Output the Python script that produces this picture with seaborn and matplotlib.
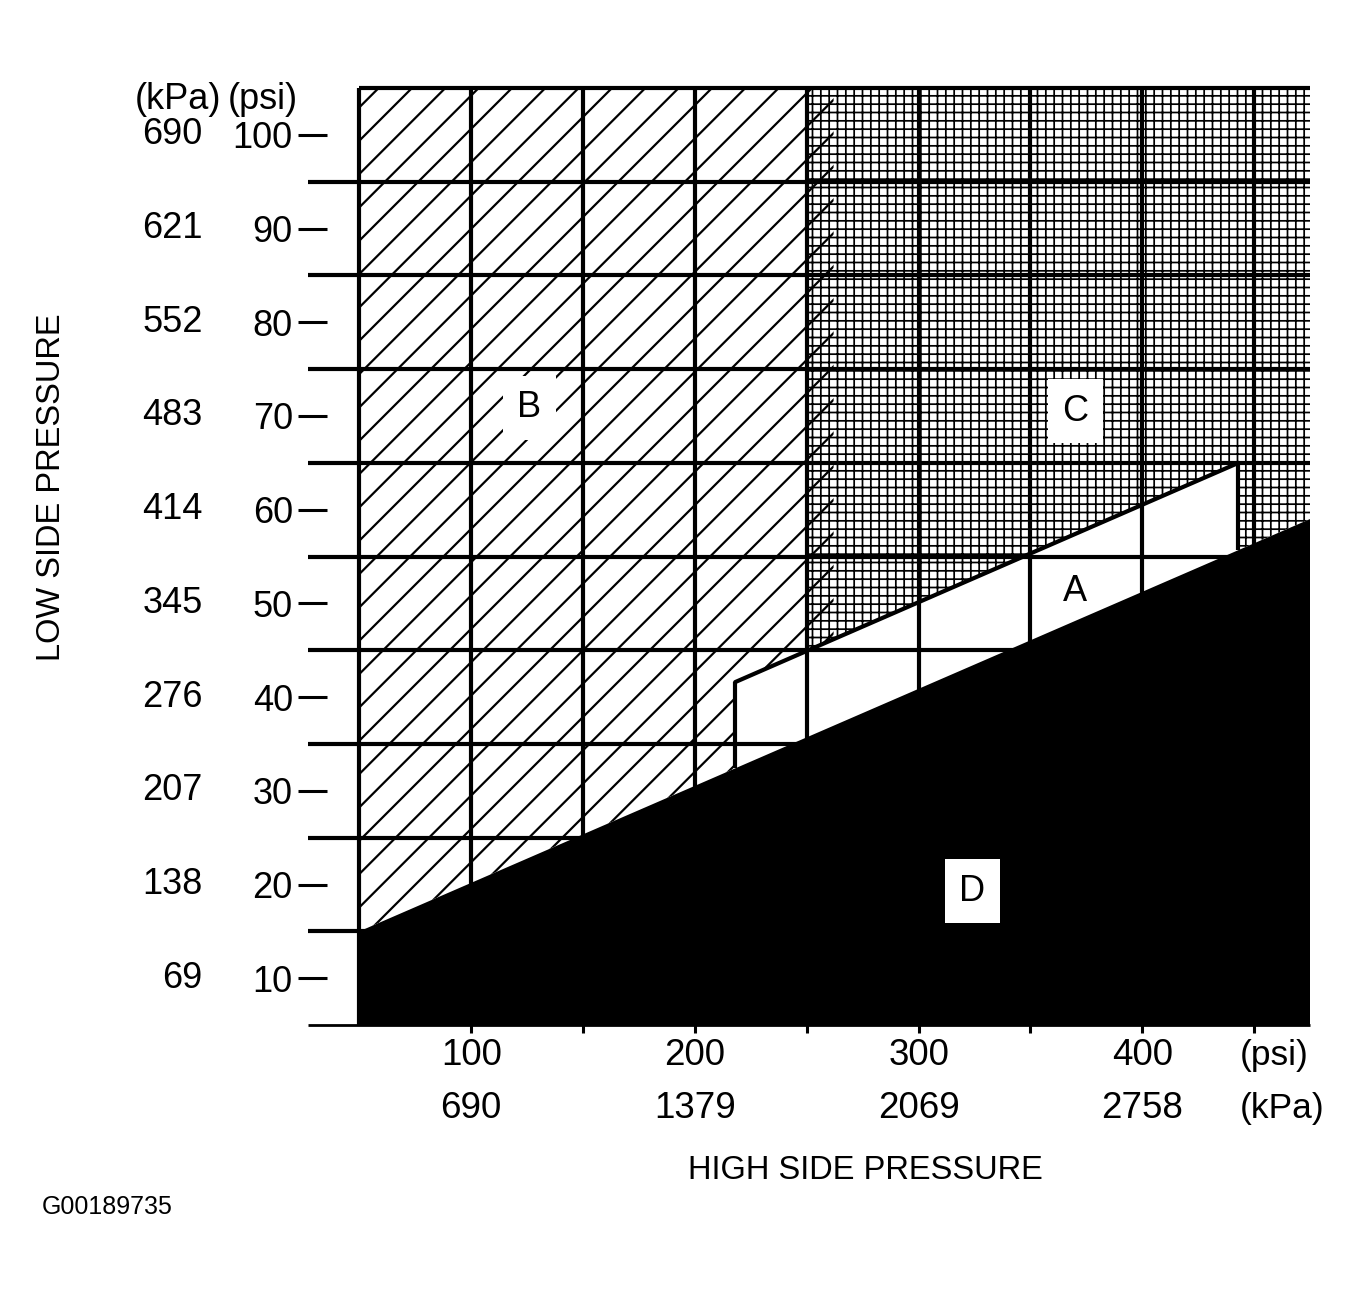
import matplotlib
matplotlib.use('Agg')
import matplotlib.pyplot as plt
import numpy as np
import seaborn as sns

# Axis values (psi on both axes, kPa shown as a second row / column)
hi_psi_ticks = [100, 200, 300, 400]
hi_kpa_labels = ['690', '1379', '2069', '2758']
lo_psi_ticks = [10, 20, 30, 40, 50, 60, 70, 80, 90, 100]
lo_kpa_labels = ['69', '138', '207', '276', '345', '414', '483', '552', '621', '690']

# Zone boundaries (high side psi, low side psi)
d_x = [50, 475]          # bottom of normal band (zone D below)
d_y = [15.0, 59.0]
a_x = [218, 443]         # zone A (normal) top edge
a_top = [41.6, 65.0]
c_left = 250             # zone C starts here
b_right = 262            # zone B hatch ends here

zone_names = ['A', 'B', 'C', 'D']
zone_x = [370, 126, 370, 324]
zone_y = [51.3, 70.9, 70.5, 19.3]

x_min, x_max = 50, 475
y_min, y_max = 5, 105

sns.set_theme(style='white')
plt.rcParams['font.family'] = ['Liberation Sans', 'DejaVu Sans']
plt.rcParams['text.color'] = 'black'
plt.rcParams['hatch.linewidth'] = 1.6

fig = plt.figure(figsize=(13.57, 12.91), dpi=100)
ax = fig.add_axes([0.2195, 0.2060, 0.7459, 0.7258])
ax.set_xlim(22.5, x_max)
ax.set_ylim(y_min, y_max)
for s in ax.spines.values():
    s.set_visible(False)


def d_line(x):
    return float(np.interp(x, d_x, d_y))


def a_line(x):
    return float(np.interp(x, a_x, a_top))


# zone B - diagonal hatch
b_poly = [(x_min, y_max), (b_right, y_max), (b_right, a_line(b_right)),
          (a_x[0], a_top[0]), (a_x[0], d_line(a_x[0])), (x_min, d_y[0])]
ax.fill(*zip(*b_poly), facecolor='white', edgecolor='black', hatch='/', linewidth=0, zorder=1)

# zone C - dense cross pattern (transparent so B's hatch shows in the overlap)
c_poly = [(c_left, y_max), (x_max, y_max), (x_max, d_y[1]),
          (a_x[1], d_line(a_x[1])), (a_x[1], a_top[1]), (c_left, a_line(c_left))]
with plt.rc_context({'hatch.linewidth': 1.25}):
    ax.fill(*zip(*c_poly), facecolor='none', edgecolor='black', hatch='++', linewidth=0, zorder=1.5)

# zone A - white
a_poly = [(a_x[0], d_line(a_x[0])), (a_x[0], a_top[0]), (a_x[1], a_top[1]), (a_x[1], d_line(a_x[1]))]
ax.fill(*zip(*a_poly), facecolor='white', edgecolor='none', zorder=2)

# zone D - solid black
d_poly = [(x_min, y_min), (x_min, d_y[0]), (x_max, d_y[1]), (x_max, y_min)]
ax.fill(*zip(*d_poly), facecolor='black', edgecolor='none', zorder=2)

# grid
lw = 3.0
ax.vlines(np.arange(100, 451, 50), y_min, y_max, colors='black', lw=lw, zorder=3)
ax.hlines(np.arange(15, 96, 10), 27, x_max, colors='black', lw=lw, zorder=3, clip_on=False)
ax.hlines([y_min], 27, x_max, colors='black', lw=2, zorder=3, clip_on=False)
ax.hlines([y_max], x_min, x_max, colors='black', lw=lw, zorder=3, clip_on=False)
ax.vlines([x_min], y_min, y_max, colors='black', lw=lw, zorder=3, clip_on=False)

# outline of zone A
sns.lineplot(x=a_x, y=a_top, color='black', lw=lw, ax=ax, zorder=4)
ax.vlines(a_x, [d_line(a_x[0]), d_line(a_x[1])], a_top, colors='black', lw=lw, zorder=4)

fs = 26
# left axis: psi as ticks, kPa as text column
ax.set_yticks(lo_psi_ticks)
ax.set_yticklabels([str(v) for v in lo_psi_ticks])
ax.tick_params(axis='y', direction='in', length=21, width=2.2, pad=3.6,
               labelsize=fs, left=True, color='black', labelcolor='black')
for v, k in zip(lo_psi_ticks, lo_kpa_labels):
    ax.text(-20, v, k, ha='right', va='center', fontsize=fs, clip_on=False)
ax.text(-31, 103.8, '(kPa)', ha='center', va='center', fontsize=fs, clip_on=False)
ax.text(7, 103.8, '(psi)', ha='center', va='center', fontsize=fs, clip_on=False)

# bottom axis: small ticks + two label rows
ax.set_xticks(np.arange(100, 451, 50))
ax.set_xticklabels([])
ax.tick_params(axis='x', direction='out', length=6, width=2.2, bottom=True, color='black')
for v, k in zip(hi_psi_ticks, hi_kpa_labels):
    ax.text(v, 1.8, str(v), ha='center', va='center', fontsize=26.5, clip_on=False)
    ax.text(v, -3.9, k, ha='center', va='center', fontsize=26.5, clip_on=False)
ax.text(443.4, 1.8, '(psi)', ha='left', va='center', fontsize=25.5, clip_on=False)
ax.text(443.4, -3.9, '(kPa)', ha='left', va='center', fontsize=25.5, clip_on=False)

# zone letters
for name, zx, zy in zip(zone_names, zone_x, zone_y):
    box = None if name == 'A' else dict(boxstyle='square,pad=0.4', facecolor='white', edgecolor='none')
    ax.text(zx, zy, name, ha='center', va='center', fontsize=26, zorder=6, bbox=box)

fig.text(0.6374, 0.0937, 'HIGH SIDE PRESSURE', ha='center', va='center', fontsize=23.5)
fig.text(0.0383, 0.6228, 'LOW SIDE PRESSURE', ha='center', va='center', fontsize=23.5, rotation=90)
fig.text(0.031, 0.065, 'G00189735', ha='left', va='center', fontsize=18)

fig.savefig('out.png', dpi=100, facecolor='white')
plt.close(fig)
